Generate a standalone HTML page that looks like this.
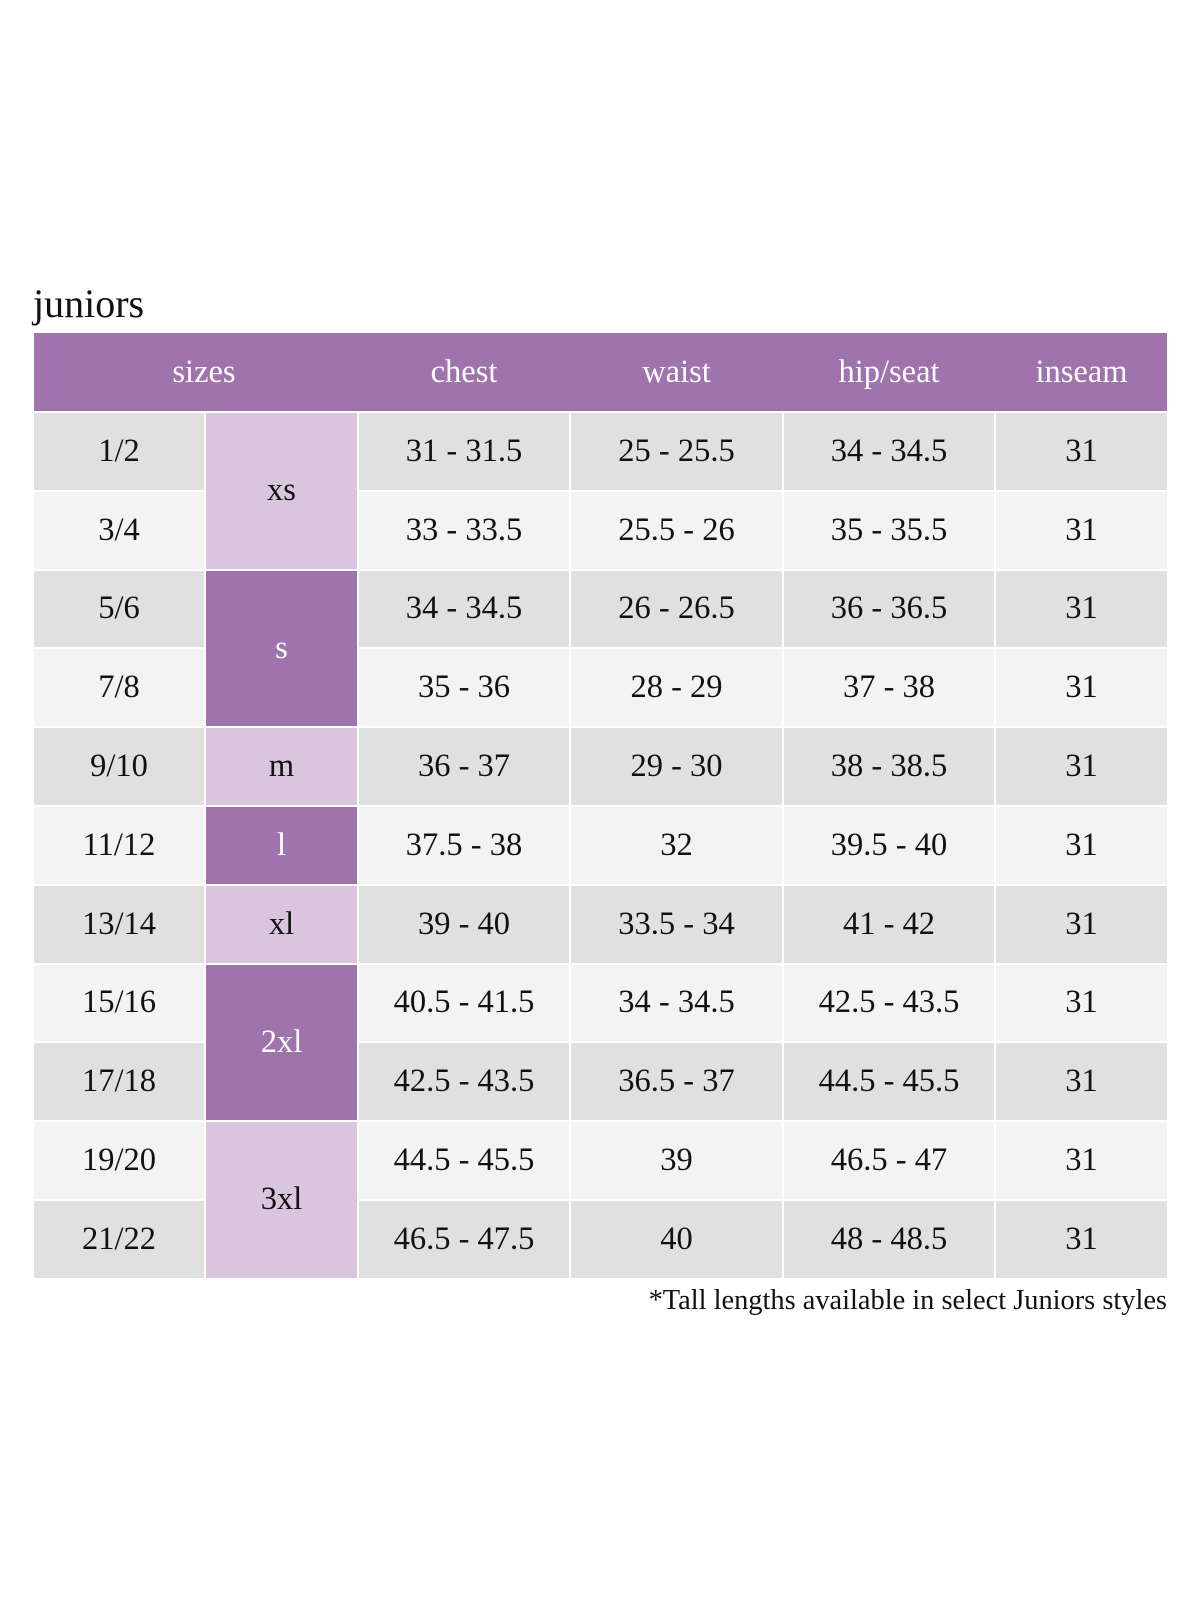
<!DOCTYPE html>
<html><head><meta charset="utf-8"><style>
body{margin:0;width:1200px;height:1600px;background:#fff;position:relative;font-family:"Liberation Serif",serif;color:#111;overflow:hidden}
.c{position:absolute;display:flex;align-items:center;justify-content:center;font-size:32.5px}
.h{color:#fff;background:#9f73ab}
.d{background:#e0e0e0}.l{background:#f3f3f3}
.p{background:#d9c5dd}.P{background:#9f73ab;color:#fff}
</style></head><body>
<div style="position:absolute;left:33px;top:280px;font-size:40px">juniors</div>
<div class="c h" style="left:34px;top:333px;width:1133px;height:78px"></div>
<div class="c h" style="left:34px;top:333px;width:340px;height:78px">sizes</div>
<div class="c h" style="left:359px;top:333px;width:210px;height:78px">chest</div>
<div class="c h" style="left:571px;top:333px;width:211px;height:78px">waist</div>
<div class="c h" style="left:784px;top:333px;width:210px;height:78px">hip/seat</div>
<div class="c h" style="left:996px;top:333px;width:171px;height:78px">inseam</div>
<div id="t"></div>
<div style="position:absolute;right:33px;top:1285px;font-size:28.4px">*Tall lengths available in select Juniors styles</div>
<script>
var rows=[["1/2","31 - 31.5","25 - 25.5","34 - 34.5"],["3/4","33 - 33.5","25.5 - 26","35 - 35.5"],["5/6","34 - 34.5","26 - 26.5","36 - 36.5"],["7/8","35 - 36","28 - 29","37 - 38"],["9/10","36 - 37","29 - 30","38 - 38.5"],["11/12","37.5 - 38","32","39.5 - 40"],["13/14","39 - 40","33.5 - 34","41 - 42"],["15/16","40.5 - 41.5","34 - 34.5","42.5 - 43.5"],["17/18","42.5 - 43.5","36.5 - 37","44.5 - 45.5"],["19/20","44.5 - 45.5","39","46.5 - 47"],["21/22","46.5 - 47.5","40","48 - 48.5"]];
var cols=[[34,170],[359,210],[571,211],[784,210],[996,171]];
var h="",top0=413,rh=78.8;
rows.forEach(function(r,i){var y=top0+i*rh,cl=i%2?"l":"d";var v=[r[0],r[1],r[2],r[3],"31"];
cols.forEach(function(c,j){h+='<div class="c '+cl+'" style="left:'+c[0]+'px;top:'+y+'px;width:'+c[1]+'px;height:'+(rh-2)+'px">'+v[j]+'</div>';});});
var L=[["xs",0,2,"p"],["s",2,2,"P"],["m",4,1,"p"],["l",5,1,"P"],["xl",6,1,"p"],["2xl",7,2,"P"],["3xl",9,2,"p"]];
L.forEach(function(s){h+='<div class="c '+s[3]+'" style="left:206px;top:'+(top0+s[1]*rh)+'px;width:151px;height:'+(s[2]*rh-2)+'px">'+s[0]+'</div>';});
document.getElementById("t").innerHTML=h;
</script>
</body></html>
